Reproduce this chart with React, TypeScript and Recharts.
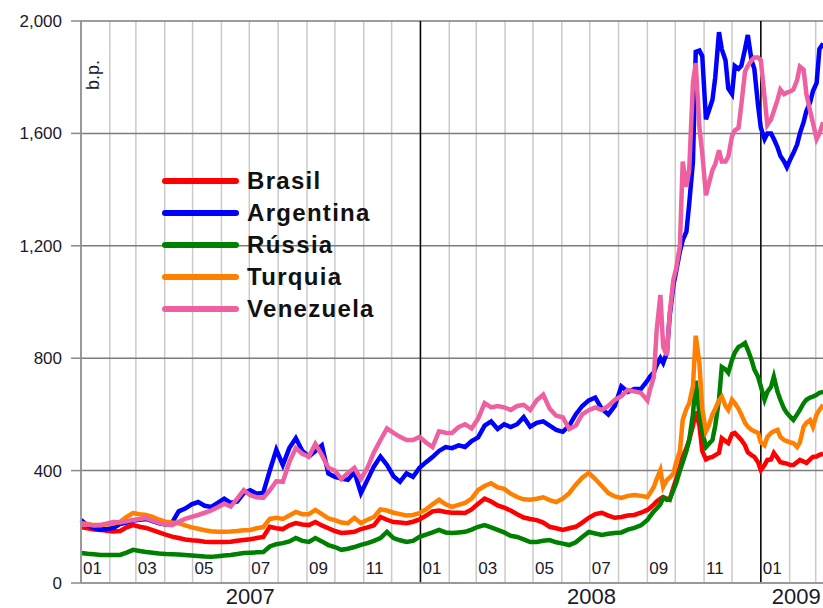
import React from 'react';
import { LineChart, Line, XAxis, YAxis, CartesianGrid, ReferenceLine } from 'recharts';

// sample dates (weekly, twice a week from Sep 2008)
const dates = [
  '2007-01-01', '2007-01-08', '2007-01-15', '2007-01-22', '2007-01-29', '2007-02-05', '2007-02-12', '2007-02-19', '2007-02-26', '2007-03-05',
  '2007-03-12', '2007-03-19', '2007-03-26', '2007-04-02', '2007-04-09', '2007-04-16', '2007-04-23', '2007-04-30', '2007-05-07', '2007-05-14',
  '2007-05-21', '2007-05-28', '2007-06-04', '2007-06-11', '2007-06-18', '2007-06-25', '2007-07-02', '2007-07-09', '2007-07-16', '2007-07-23',
  '2007-07-30', '2007-08-06', '2007-08-13', '2007-08-20', '2007-08-27', '2007-09-03', '2007-09-10', '2007-09-17', '2007-09-24', '2007-10-01',
  '2007-10-08', '2007-10-15', '2007-10-22', '2007-10-29', '2007-11-05', '2007-11-12', '2007-11-19', '2007-11-26', '2007-12-03', '2007-12-10',
  '2007-12-17', '2007-12-24', '2007-12-31', '2008-01-07', '2008-01-14', '2008-01-21', '2008-01-28', '2008-02-04', '2008-02-11', '2008-02-18',
  '2008-02-25', '2008-03-03', '2008-03-10', '2008-03-17', '2008-03-24', '2008-03-31', '2008-04-07', '2008-04-14', '2008-04-21', '2008-04-28',
  '2008-05-05', '2008-05-12', '2008-05-19', '2008-05-26', '2008-06-02', '2008-06-09', '2008-06-16', '2008-06-23', '2008-06-30', '2008-07-07',
  '2008-07-14', '2008-07-21', '2008-07-28', '2008-08-04', '2008-08-11', '2008-08-18', '2008-08-25', '2008-09-01', '2008-09-04', '2008-09-08',
  '2008-09-11', '2008-09-15', '2008-09-18', '2008-09-22', '2008-09-25', '2008-09-29', '2008-10-02', '2008-10-06', '2008-10-09', '2008-10-13',
  '2008-10-16', '2008-10-20', '2008-10-23', '2008-10-27', '2008-10-30', '2008-11-03', '2008-11-06', '2008-11-10', '2008-11-13', '2008-11-17',
  '2008-11-20', '2008-11-24', '2008-11-27', '2008-12-01', '2008-12-04', '2008-12-08', '2008-12-11', '2008-12-15', '2008-12-18', '2008-12-22',
  '2008-12-25', '2008-12-29', '2009-01-01', '2009-01-05', '2009-01-08', '2009-01-12', '2009-01-15', '2009-01-19', '2009-01-22', '2009-01-26',
  '2009-01-29', '2009-02-02', '2009-02-05', '2009-02-09', '2009-02-12', '2009-02-16', '2009-02-19', '2009-02-23', '2009-02-26', '2009-03-02',
  '2009-03-05', '2009-03-09',
];

const brasil = [
  199, 195, 190, 189, 186, 183, 185, 198, 206, 200,
  196, 188, 180, 172, 165, 160, 155, 152, 150, 147,
  146, 146, 146, 147, 150, 153, 156, 160, 164, 200,
  195, 192, 205, 213, 208, 206, 217, 205, 195, 185,
  178, 180, 182, 192, 198, 205, 235, 225, 217, 215,
  213, 218, 226, 240, 255, 258, 253, 250, 250, 249,
  262, 282, 300, 290, 276, 268, 258, 245, 233, 228,
  224, 215, 200, 195, 189, 195, 200, 215, 232, 245,
  250, 240, 232, 235, 240, 242, 250, 260, 268, 280,
  290, 300, 306, 300, 296, 340, 370, 413, 450, 480,
  509, 560, 610, 560, 470, 440, 445, 449, 455, 463,
  515, 505, 498, 530, 534, 520, 509, 490, 465, 455,
  449, 430, 402, 420, 438, 440, 463, 445, 430, 427,
  425, 420, 420, 430, 438, 432, 427, 440, 449, 450,
  456, 460,
];

const argentina = [
  224, 205, 195, 190, 192, 196, 210, 215, 222, 225,
  228, 220, 212, 208, 215, 255, 265, 280, 288, 275,
  271, 285, 300, 285, 290, 320, 330, 318, 322, 400,
  474, 420, 480, 515, 470, 450, 470, 490, 390, 378,
  372, 367, 395, 320, 367, 415, 450, 420, 380, 360,
  390, 378, 410, 430, 448, 470, 484, 480, 490, 484,
  505, 518, 560, 575, 548, 565, 555, 565, 590, 556,
  570, 575, 560, 545, 538, 560, 600, 630, 650, 660,
  620, 600, 630, 700, 680, 690, 690, 720, 735, 750,
  775, 800, 783, 820, 950, 1060, 1110, 1180, 1220, 1250,
  1350, 1500, 1890, 1895, 1875, 1650, 1680, 1720, 1800, 1960,
  1900, 1860, 1760, 1740, 1840, 1830, 1840, 1900, 1950, 1860,
  1830, 1700, 1620, 1580, 1600, 1600, 1580, 1550, 1520, 1500,
  1480, 1510, 1530, 1560, 1600, 1640, 1680, 1710, 1750, 1780,
  1900, 1920,
];

const russia = [
  107, 104, 102, 100, 100, 100, 100, 108, 118, 114,
  110, 108, 105, 103, 102, 101, 100, 98, 96, 94,
  93, 95, 98, 100, 103, 107, 108, 109, 110, 130,
  138, 142, 148, 160, 150, 146, 160, 148, 135, 128,
  118, 122, 128, 136, 142, 150, 160, 182, 160, 152,
  146, 150, 164, 172, 180, 189, 180, 178, 180, 182,
  190, 200, 206, 198, 189, 180, 168, 164, 155, 146,
  146, 150, 153, 145, 140, 135, 145, 164, 182, 176,
  171, 175, 178, 180, 190, 196, 205, 224, 238, 255,
  265, 280, 303, 296, 298, 330, 356, 400, 430, 470,
  509, 600, 720, 600, 540, 484, 495, 509, 560, 652,
  769, 760, 748, 794, 820, 840, 845, 854, 830, 794,
  760, 734, 700, 652, 680, 698, 734, 680, 652, 620,
  605, 590, 580, 600, 616, 640, 652, 660, 663, 670,
  677, 680,
];

const turquia = [
  213, 210, 206, 206, 208, 212, 218, 235, 249, 245,
  242, 235, 225, 218, 215, 213, 205, 198, 193, 188,
  184, 182, 182, 183, 185, 188, 189, 195, 199, 228,
  232, 228, 240, 253, 245, 245, 260, 245, 230, 224,
  215, 213, 232, 213, 225, 235, 262, 258, 250, 245,
  240, 242, 249, 262, 280, 296, 280, 271, 278, 285,
  300, 331, 345, 355, 340, 335, 318, 306, 298, 296,
  300, 305, 295, 288, 300, 320, 350, 375, 392, 370,
  345, 320, 308, 303, 310, 313, 310, 306, 320, 342,
  370, 402, 342, 367, 375, 390, 430, 470, 580, 620,
  640, 700, 880, 780, 620, 540, 560, 600, 620, 650,
  663, 630, 616, 652, 640, 620, 600, 570, 556, 545,
  540, 534, 500, 490, 520, 534, 540, 545, 520, 509,
  505, 500, 498, 484, 500, 556, 570, 580, 556, 600,
  616, 634,
];

const venezuela = [
  206, 208, 205, 206, 212, 217, 215, 220, 224, 228,
  231, 222, 214, 208, 206, 218, 228, 235, 242, 250,
  258, 270, 282, 272, 300, 330, 312, 305, 303, 330,
  362, 360, 430, 480, 460, 450, 495, 455, 410, 400,
  370, 392, 410, 370, 410, 465, 509, 550, 534, 520,
  509, 509, 520, 500, 484, 540, 535, 534, 555, 565,
  550, 585, 640, 625, 630, 625, 616, 630, 634, 616,
  650, 670, 620, 595, 590, 548, 560, 600, 615, 625,
  616, 630, 652, 665, 687, 682, 677, 650, 690, 734,
  900, 1025, 840, 810, 960, 1080, 1120, 1200, 1500, 1410,
  1470, 1780, 1850, 1620, 1530, 1380, 1420, 1470, 1490, 1540,
  1500, 1500, 1517, 1590, 1610, 1620, 1700, 1820, 1840, 1860,
  1870, 1870, 1860, 1730, 1630, 1650, 1680, 1720, 1756, 1740,
  1745, 1750, 1756, 1790, 1838, 1827, 1740, 1680, 1638, 1580,
  1600, 1640,
];

const monthStarts = [
  '2007-01-01', '2007-02-01', '2007-03-01', '2007-04-01', '2007-05-01', '2007-06-01', '2007-07-01', '2007-08-01', '2007-09-01',
  '2007-10-01', '2007-11-01', '2007-12-01', '2008-01-01', '2008-02-01', '2008-03-01', '2008-04-01', '2008-05-01', '2008-06-01',
  '2008-07-01', '2008-08-01', '2008-09-01', '2008-10-01', '2008-11-01', '2008-12-01', '2009-01-01', '2009-02-01', '2009-03-01',
];
const monthLabels = ['01', '', '03', '', '05', '', '07', '', '09', '', '11', '', '01', '', '03', '', '05', '', '07', '', '09', '', '11', '', '01', '', ''];
const yearStarts = ['2008-01-01', '2009-01-01'];
const yearLabels = [
  { year: '2007', at: '2007-07-02' },
  { year: '2008', at: '2008-07-03' },
  { year: '2009', at: '2009-02-08' },
];
const yTicks = [0, 400, 800, 1200, 1600, 2000];

const series = [
  { key: 'brasil', name: 'Brasil', color: '#ff0000' },
  { key: 'argentina', name: 'Argentina', color: '#0000ff' },
  { key: 'russia', name: 'Rússia', color: '#008000' },
  { key: 'turquia', name: 'Turquia', color: '#ff8000' },
  { key: 'venezuela', name: 'Venezuela', color: '#ee60a0' },
];

const toDay = (s: string) =>
  (Date.UTC(+s.slice(0, 4), +s.slice(5, 7) - 1, +s.slice(8, 10)) - Date.UTC(2007, 0, 1)) / 86400000;

const data = dates.map((d, i) => ({
  day: toDay(d),
  brasil: brasil[i],
  argentina: argentina[i],
  russia: russia[i],
  turquia: turquia[i],
  venezuela: venezuela[i],
}));

const monthDays = monthStarts.map(toDay);
const FONT = '"Liberation Sans", Arial, sans-serif';

const MonthTick = (props: any) => {
  const { x, y, payload } = props;
  const idx = monthDays.indexOf(payload.value);
  const label = monthLabels[idx];
  if (!label) return <g />;
  return (
    <text x={x + 2} y={y - 9} fontSize={17} fontFamily={FONT} fill="#1a1a2a">
      {label}
    </text>
  );
};

const App: React.FC = () => {
  return (
    <div style={{ position: 'absolute', left: 0, top: 0, width: 823, height: 608, overflow: 'hidden', background: '#fff' }}>
      <LineChart width={830} height={608} data={data} margin={{ top: 21, right: 5, bottom: 0, left: 0 }}>
        <CartesianGrid horizontal={false} stroke="#cacaca" strokeWidth={1.5} />
        <CartesianGrid vertical={false} stroke="#7c7c7c" strokeWidth={1.5} />
        <XAxis
          type="number"
          dataKey="day"
          domain={[0, 800]}
          ticks={monthDays}
          interval={0}
          tick={<MonthTick />}
          tickLine={false}
          tickSize={0}
          tickMargin={0}
          height={25}
          axisLine={{ stroke: '#999', strokeWidth: 2 }}
        />
        <YAxis
          domain={[0, 2000]}
          ticks={yTicks}
          width={81}
          tickSize={10}
          tickMargin={9}
          tickFormatter={(v: number) => v.toLocaleString('en-US')}
          tick={{ fontSize: 17, fontFamily: FONT, fill: '#1a1a2a' }}
          axisLine={{ stroke: '#999', strokeWidth: 2 }}
          tickLine={{ stroke: '#888', strokeWidth: 1.5 }}
        />
        {yearStarts.map((d) => (
          <ReferenceLine key={d} x={toDay(d)} stroke="#000" strokeWidth={1.5} />
        ))}
        {yearLabels.map((y) => (
          <ReferenceLine
            key={y.year}
            x={toDay(y.at)}
            stroke="none"
            label={{ value: y.year, position: 'bottom', offset: 5, fontSize: 22, fontFamily: FONT, fill: '#1a1a2a' }}
          />
        ))}
        {series.map((s) => (
          <Line
            key={s.key}
            type="linear"
            dataKey={s.key}
            name={s.name}
            stroke={s.color}
            strokeWidth={4.5}
            dot={false}
            isAnimationActive={false}
          />
        ))}
      </LineChart>
      <svg width={823} height={608} style={{ position: 'absolute', left: 0, top: 0, pointerEvents: 'none' }}>
        <text transform="translate(99,75) rotate(-90)" textAnchor="middle" fontSize={18} fontFamily={FONT} fill="#1a1a2a">
          b.p.
        </text>
        {series.map((s, i) => (
          <g key={s.key}>
            <line x1={165} x2={236} y1={181 + i * 32} y2={181 + i * 32} stroke={s.color} strokeWidth={6} strokeLinecap="round" />
            <text x={247} y={189 + i * 32} fontSize={24} fontWeight="bold" letterSpacing={1.3} fontFamily={FONT} fill="#111">
              {s.name}
            </text>
          </g>
        ))}
      </svg>
    </div>
  );
};

export default App;
